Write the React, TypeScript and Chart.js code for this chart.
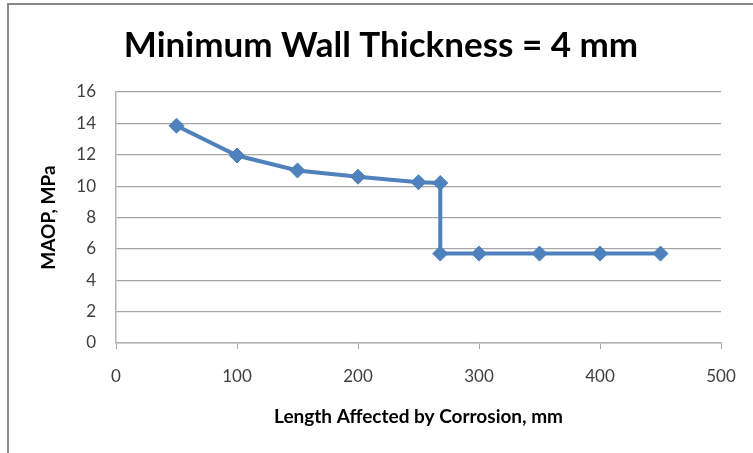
import React, { useEffect, useRef } from "react";
import { Chart, registerables } from "chart.js";

Chart.register(...registerables);

const lengths = [50, 100, 150, 200, 250, 268, 268, 300, 350, 400, 450];
const maop = [13.85, 11.95, 11.0, 10.6, 10.25, 10.2, 5.7, 5.7, 5.7, 5.7, 5.7];
const chartTitle = "Minimum Wall Thickness = 4 mm";
const xTitle = "Length Affected by Corrosion, mm";
const yTitle = "MAOP, MPa";

const FONT = "Lato, 'Open Sans', sans-serif";

const framePlugin = {
  id: "frame",
  beforeDraw(chart: any) {
    const ctx = chart.ctx;
    ctx.save();
    ctx.fillStyle = "#ffffff";
    ctx.fillRect(0, 0, chart.width, chart.height);
    ctx.fillStyle = "#8a8a8a";
    ctx.fillRect(7, 3, 2, chart.height - 3);
    ctx.fillRect(7, 3, chart.width - 7, 2);
    ctx.restore();
  },
  afterDraw(chart: any) {
    const ctx = chart.ctx;
    ctx.save();
    ctx.fillStyle = "#000000";
    ctx.font = `bold 35px ${FONT}`;
    ctx.textAlign = "center";
    ctx.textBaseline = "middle";
    ctx.fillText(chartTitle, 381, 46);
    ctx.restore();
  },
};

export default function App() {
  const ref = useRef<HTMLCanvasElement | null>(null);
  useEffect(() => {
    if (!ref.current) return;
    const chart = new Chart(ref.current, {
      type: "line",
      data: {
        datasets: [
          {
            data: lengths.map((x, i) => ({ x, y: maop[i] })),
            borderColor: "#4f81bd",
            backgroundColor: "#4f81bd",
            borderWidth: 4,
            pointStyle: "rectRot",
            pointRadius: 7.5,
            pointBorderWidth: 1,
            tension: 0,
          },
        ],
      },
      options: {
        animation: false,
        responsive: false,
        layout: { padding: { top: 92, left: 0, right: 32, bottom: 0 } },
        plugins: {
          legend: { display: false },
          tooltip: { enabled: false },
          title: { display: false },
        },
        scales: {
          x: {
            type: "linear",
            min: 0,
            max: 500,
            ticks: {
              stepSize: 100,
              color: "#404040",
              font: { family: FONT, size: 17 },
              padding: 17,
            },
            grid: {
              drawOnChartArea: false,
              drawTicks: true,
              tickLength: 6,
              color: "#a6a6a6",
            },
            border: { display: true, color: "#b3b3b3", width: 1.5 },
            title: {
              display: true,
              text: xTitle,
              color: "#000000",
              font: { family: FONT, size: 19, weight: "bold" },
              padding: { top: 0, bottom: 25 },
            },
            afterFit: (s: any) => {
              s.height = 110;
            },
          },
          y: {
            min: 0,
            max: 16,
            ticks: {
              stepSize: 2,
              color: "#404040",
              font: { family: FONT, size: 17 },
              padding: 20,
            },
            grid: {
              drawTicks: false,
              color: "#a6a6a6",
              lineWidth: 1.2,
            },
            border: { display: true, color: "#b3b3b3", width: 1.5 },
            title: {
              display: true,
              text: yTitle,
              color: "#000000",
              font: { family: FONT, size: 19, weight: "bold" },
              padding: { top: 37, bottom: 0 },
            },
            afterFit: (s: any) => {
              s.width = 116;
            },
          },
        },
      },
      plugins: [framePlugin],
    });
    return () => chart.destroy();
  }, []);
  return (
    <div style={{ position: "fixed", left: 0, top: 0, width: 753, height: 453 }}>
      <canvas ref={ref} width={753} height={453} style={{ display: "block" }} />
    </div>
  );
}
